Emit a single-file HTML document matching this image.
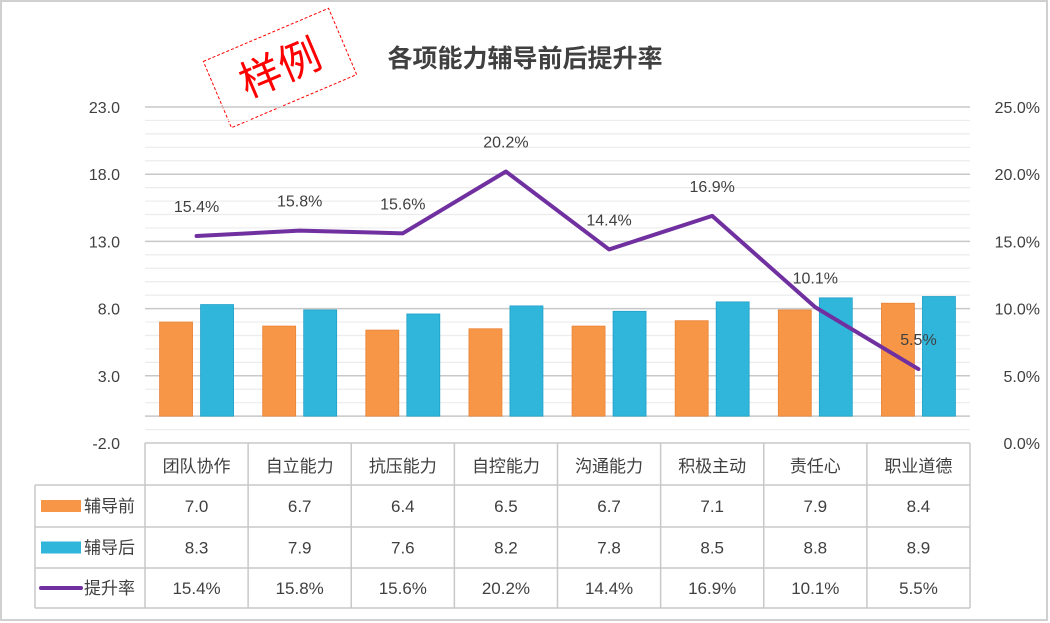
<!DOCTYPE html>
<html><head><meta charset="utf-8"><style>
body{margin:0;background:#fff;}
svg{display:block;font-family:"Liberation Sans","Noto Sans CJK SC",sans-serif;}
</style></head><body>
<svg width="1050" height="623" viewBox="0 0 1050 623" id="chart">
<rect x="1" y="1" width="1046" height="619" fill="#fff" stroke="#d0d0d0" stroke-width="2"/>
<text x="525" y="67" text-anchor="middle" font-size="25" font-weight="bold" fill="#404040">各项能力辅导前后提升率</text>
<g transform="translate(280,68) rotate(-23)">
<rect x="-68" y="-36" width="136" height="72" fill="#fff" stroke="#ff0000" stroke-width="1" stroke-dasharray="3,2"/>
<text x="0" y="15" text-anchor="middle" font-size="42" fill="#ff0000" font-family="'Noto Sans CJK SC',sans-serif">样例</text>
</g>
<g id="grid"></g><g id="bars"></g><g id="line"></g><g id="axes"></g><g id="table"></g>
</svg>
<script>
const categories=["团队协作","自立能力","抗压能力","自控能力","沟通能力","积极主动","责任心","职业道德"];
const before=[7.0,6.7,6.4,6.5,6.7,7.1,7.9,8.4];
const after=[8.3,7.9,7.6,8.2,7.8,8.5,8.8,8.9];
const rate=[15.4,15.8,15.6,20.2,14.4,16.9,10.1,5.5];
const leftTicks=["-2.0","3.0","8.0","13.0","18.0","23.0"];
const rightTicks=["0.0%","5.0%","10.0%","15.0%","20.0%","25.0%"];
const NS="http://www.w3.org/2000/svg";
const X0=145,X1=970,Y0=443,Y1=107;
const cw=(X1-X0)/categories.length;
const yL=v=>Y0-(v+2)/25*(Y0-Y1);
const yR=v=>Y0-v/25*(Y0-Y1);
const xc=i=>X0+cw*(i+0.5);
function mk(tag,attrs,parent,txt){const e=document.createElementNS(NS,tag);for(const k in attrs)e.setAttribute(k,attrs[k]);if(txt!==undefined)e.textContent=txt;document.getElementById(parent).appendChild(e);return e;}
// grid
for(let v=-1;v<=23;v++){
 const major=((v+2)%5===0)||v===0;
 const g=mk('line',{x1:X0,x2:X1,y1:yL(v),y2:yL(v),stroke:major?'#c8c8c8':'#ececec','stroke-width':major?1.5:1.2},'grid');
 
 
}
leftTicks.forEach(t=>{const e=mk('text',{x:120,y:yL(parseFloat(t))+6,'text-anchor':'end','font-size':16,fill:'#404040'},'axes',t);
 
 });
rightTicks.forEach(t=>{const e=mk('text',{x:1040,y:yR(parseFloat(t))+6,'text-anchor':'end','font-size':16,fill:'#404040'},'axes',t);
 
 });
// bars
const bw=33;
categories.forEach((c,i)=>{
 const b1=mk('rect',{x:xc(i)-bw-4,y:yL(before[i]),width:bw,height:yL(0)-yL(before[i]),fill:'#f79646',stroke:'#e8843a','stroke-width':0.8},'bars');
 
 
 const b2=mk('rect',{x:xc(i)+4,y:yL(after[i]),width:bw,height:yL(0)-yL(after[i]),fill:'#31b6db',stroke:'#1fa0c8','stroke-width':0.8},'bars');
 
 
});
// line
const pl=mk('polyline',{points:rate.map((r,i)=>xc(i)+','+yR(r)).join(' '),fill:'none',stroke:'#7030a0','stroke-width':4,'stroke-linejoin':'round','stroke-linecap':'round'},'line');


rate.forEach((r,i)=>{const e=mk('text',{x:xc(i),y:yR(r)-24,'text-anchor':'middle','font-size':16,fill:'#404040'},'line',r.toFixed(1)+'%');
 
 });
// table
const rows=[443,485,527,568,608];
const tl=(x1,y1,x2,y2)=>{const l=mk('line',{x1,y1,x2,y2,stroke:'#c8c8c8','stroke-width':1.5},'table');
 
 };
tl(X0,rows[0],X1,rows[0]);
for(let r=1;r<5;r++)tl(35,rows[r],X1,rows[r]);
tl(35,rows[1],35,rows[4]);
for(let i=0;i<=categories.length;i++)tl(X0+cw*i,rows[0],X0+cw*i,rows[4]);
categories.forEach((c,i)=>{const e=mk('text',{x:xc(i),y:472,'text-anchor':'middle','font-size':17,fill:'#404040'},'table',c);
 
 });
const series=[["辅导前",before,v=>v.toFixed(1),'#f79646','rect'],["辅导后",after,v=>v.toFixed(1),'#31b6db','rect'],["提升率",rate,v=>v.toFixed(1)+'%','#7030a0','line']];
series.forEach((s,r)=>{
 const cy=(rows[r+1]+rows[r+2])/2;
 if(s[4]==='rect'){const k=mk('rect',{x:41,y:cy-6,width:40,height:12,fill:s[3]},'table');
  
  }
 else{const k=mk('line',{x1:41,x2:81,y1:cy,y2:cy,stroke:s[3],'stroke-width':4,'stroke-linecap':'round'},'table');
  
  }
 const lt=mk('text',{x:84,y:cy+6,'font-size':17,fill:'#404040'},'table',s[0]);
 
 
 s[1].forEach((v,i)=>{const e=mk('text',{x:xc(i),y:cy+6,'text-anchor':'middle','font-size':17,fill:'#404040'},'table',s[2](v));
  
  });
});
</script>
</body></html>
